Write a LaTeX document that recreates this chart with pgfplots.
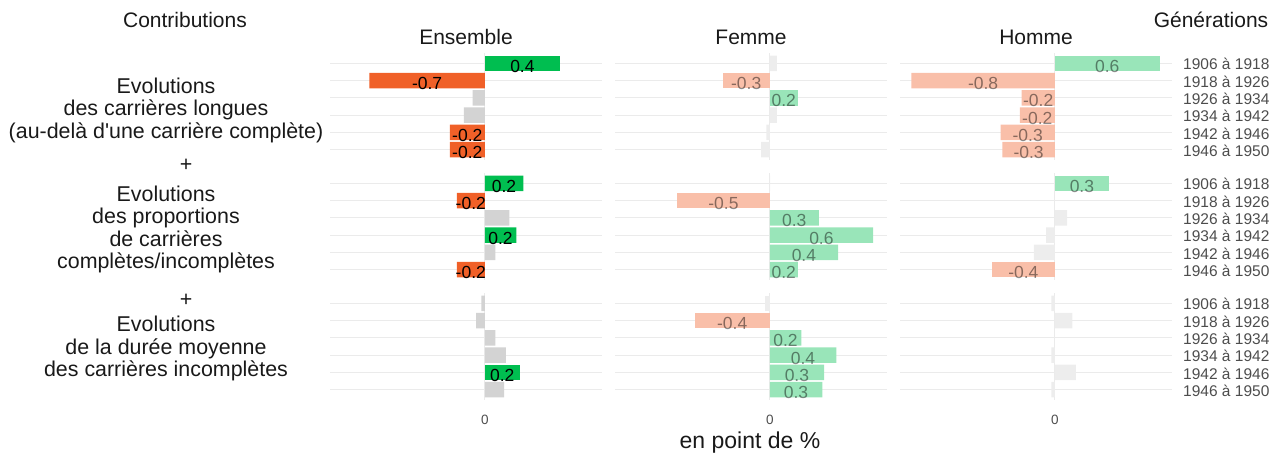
\documentclass[border=0pt]{standalone}
\usepackage{fontspec}
\setmainfont{Liberation Sans}
\usepackage{pgfplots}
\usepackage{pgfplotstable}
\pgfplotsset{compat=1.18}

% strong colours (Ensemble) and faded ones (Femme, Homme)
\definecolor{sg}{HTML}{00BE50}
\definecolor{so}{HTML}{F06028}
\definecolor{sn}{HTML}{D3D3D3}
\definecolor{fg}{HTML}{99E5B9}
\definecolor{fo}{HTML}{F9BFA9}
\definecolor{fn}{HTML}{EDEDED}
\definecolor{gridc}{HTML}{EBEBEB}
\definecolor{tickc}{HTML}{4D4D4D}

% c: 0 = small (grey), 1 = positive highlighted, 2 = negative highlighted
\pgfplotstableread{
g ens ensc fem femc hom homc
0  0.43 1  0.04 0  0.60 1
1 -0.66 2 -0.27 2 -0.82 2
2 -0.07 0  0.16 1 -0.19 2
3 -0.12 0  0.04 0 -0.20 2
4 -0.20 2 -0.02 0 -0.31 2
5 -0.20 2 -0.05 0 -0.30 2
}\longues
\pgfplotstableread{
g ens ensc fem femc hom homc
0  0.22 1  0.00 0  0.31 1
1 -0.16 2 -0.53 2  0.00 0
2  0.14 0  0.28 1  0.07 0
3  0.18 1  0.59 1 -0.05 0
4  0.06 0  0.39 1 -0.12 0
5 -0.16 2  0.16 1 -0.36 2
}\proportions
\pgfplotstableread{
g ens ensc fem femc hom homc
0 -0.02 0 -0.03 0 -0.02 0
1 -0.05 0 -0.43 2  0.10 0
2  0.06 0  0.18 1  0.00 0
3  0.12 0  0.38 1 -0.02 0
4  0.20 1  0.31 1  0.12 0
5  0.11 0  0.30 1 -0.02 0
}\duree

\tikzset{
  slbl/.style={text=black},
  flbl/.style={text=black, text opacity=0.45},
}
\pgfplotsset{
  panel/.style={
    scale only axis, width=272pt, height=107pt, anchor=north west,
    xmin=-0.885, xmax=0.67, ymin=-0.6, ymax=5.6,
    axis line style={draw=none}, tick style={draw=none},
    major tick length=0pt,
    xtick={0}, ytick={0,...,5}, xticklabels={}, yticklabels={},
    xmajorgrids, ymajorgrids,
    grid style={draw=gridc, line width=1.2pt},
    xticklabel style={font=\fontsize{13.5}{13.5}\selectfont, text=tickc,
      anchor=center, inner sep=0pt, yshift=-20pt},
    yticklabel style={font=\fontsize{15.5}{15.5}\selectfont, text=tickc,
      anchor=west, inner sep=0pt, xshift=11pt, yshift=-1pt},
    clip=false,
  },
  bottom/.style={xticklabels={0}},
  gens/.style={yticklabel pos=right,
    yticklabels={1946 à 1950,1942 à 1946,1934 à 1942,1926 à 1934,1918 à 1926,1906 à 1918}},
}

% #1 left (px)  #2 top (px)  #3 table  #4 column  #5 s/f  #6 extra options
\newcommand{\panel}[6]{%
\begin{axis}[panel, at={(#1pt,{457pt-#2pt})}, #6]
  \addplot[xbar, bar width=0.9, bar shift=0pt, draw=none, fill=#5n,
    restrict expr to domain={\thisrow{#4c}}{0:0}]
    table[x=#4, y expr=5-\thisrow{g}] {#3};
  \addplot[xbar, bar width=0.9, bar shift=0pt, draw=none, fill=#5g,
    restrict expr to domain={\thisrow{#4c}}{1:1}]
    table[x=#4, y expr=5-\thisrow{g}] {#3};
  \addplot[xbar, bar width=0.9, bar shift=0pt, draw=none, fill=#5o,
    restrict expr to domain={\thisrow{#4c}}{2:2}]
    table[x=#4, y expr=5-\thisrow{g}] {#3};
  \addplot[draw=none, mark=none, point meta=explicit,
    restrict expr to domain={\thisrow{#4c}}{1:2},
    nodes near coords={\pgfmathprintnumber[fixed, precision=1, assume math mode=true]{\pgfplotspointmeta}},
    nodes near coords style={#5lbl, anchor=center, inner sep=0pt, yshift=-3pt,
      font=\fontsize{17.5}{17.5}\selectfont}]
    table[x expr=\thisrow{#4}/2, y expr=5-\thisrow{g}, meta=#4] {#3};
\end{axis}}

\begin{document}
\begin{tikzpicture}
\path[use as bounding box] (0,0) rectangle (1278pt,457pt);

\panel{330}{53}{\longues}{ens}{s}{}
\panel{615}{53}{\longues}{fem}{f}{}
\panel{900}{53}{\longues}{hom}{f}{gens}
\panel{330}{173}{\proportions}{ens}{s}{}
\panel{615}{173}{\proportions}{fem}{f}{}
\panel{900}{173}{\proportions}{hom}{f}{gens}
\panel{330}{293}{\duree}{ens}{s}{bottom}
\panel{615}{293}{\duree}{fem}{f}{bottom}
\panel{900}{293}{\duree}{hom}{f}{bottom,gens}

\begin{scope}[every node/.style={inner sep=0pt, text=black!90}]
  \node[font=\fontsize{21}{22}\selectfont] at (185pt,437pt) {Contributions};
  \node[font=\fontsize{21}{22}\selectfont] at (1211pt,437pt) {Générations};
  \node[font=\fontsize{21}{22}\selectfont] at (466pt,420pt) {Ensemble};
  \node[font=\fontsize{21}{22}\selectfont] at (751pt,420pt) {Femme};
  \node[font=\fontsize{21}{22}\selectfont] at (1036pt,420pt) {Homme};
  \node[font=\fontsize{21.4}{22.5}\selectfont, align=center] at (166pt,347pt)
    {Evolutions\\des carrières longues\\(au-delà d\textquotesingle une carrière complète)};
  \node[font=\fontsize{21.4}{22.5}\selectfont] at (186pt,292pt) {+};
  \node[font=\fontsize{21.4}{22.5}\selectfont, align=center] at (166pt,227.5pt)
    {Evolutions\\des proportions\\de carrières\\complètes/incomplètes};
  \node[font=\fontsize{21.4}{22.5}\selectfont] at (186pt,157pt) {+};
  \node[font=\fontsize{21.4}{22.5}\selectfont, align=center] at (166pt,108.5pt)
    {Evolutions\\de la durée moyenne\\des carrières incomplètes};
  \node[font=\fontsize{23}{23}\selectfont] at (750pt,14pt) {en point de \%};
\end{scope}
\end{tikzpicture}
\end{document}
